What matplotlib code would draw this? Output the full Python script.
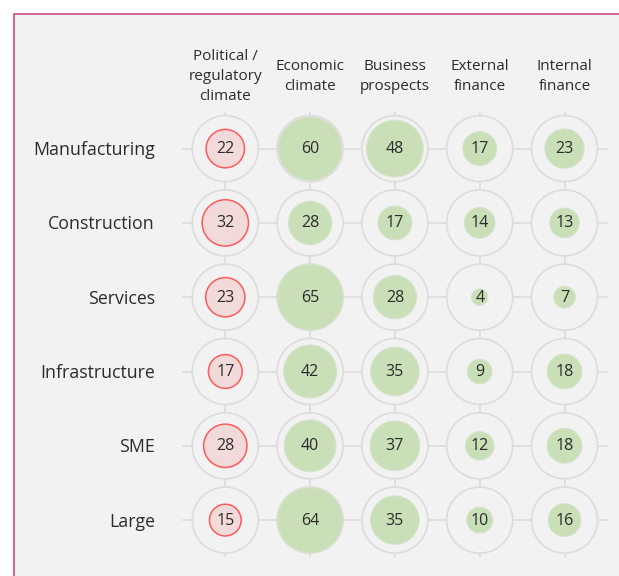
import numpy as np
import matplotlib.pyplot as plt
from matplotlib.patches import Circle, Rectangle

plt.rcParams['font.family'] = ['Open Sans', 'DejaVu Sans']

# data
rows = ['Manufacturing', 'Construction', 'Services', 'Infrastructure', 'SME', 'Large']
cols = ['Political /\nregulatory\nclimate', 'Economic\nclimate', 'Business\nprospects',
        'External\nfinance', 'Internal\nfinance']
political = [22, 32, 23, 17, 28, 15]
economic = [60, 28, 65, 42, 40, 64]
business = [48, 17, 28, 35, 37, 35]
external = [17, 14, 4, 9, 12, 10]
internal = [23, 13, 7, 18, 18, 16]
negative_col = 0  # first column drawn as an obstacle (red)

values = np.array([political, economic, business, external, internal]).T

# layout in pixels
W, H = 619, 576
x0, dx = 225.3, 84.8
y0, dy = 148.6, 74.3
r_out = 33.0
vmax = 65.0

fig = plt.figure(figsize=(W / 100, H / 100), dpi=100)
ax = fig.add_axes([0, 0, 1, 1])
ax.set_xlim(0, W)
ax.set_ylim(H, 0)
ax.set_aspect('equal')
ax.axis('off')

# panel with pink border
ax.add_patch(Rectangle((13.5, 13.5), W + 20, H + 20, facecolor='#f2f2f2',
                       edgecolor='#d05a8e', linewidth=1.3, zorder=0))

grid = '#dcdcdc'
txt = '#2b2b2b'
xs = x0 + dx * np.arange(len(cols))
ys = y0 + dy * np.arange(len(rows))

# connecting lines
for y in ys:
    ax.plot([xs[0] - 42, xs[-1] + 42], [y, y], color=grid, lw=1.2, zorder=1)
for x in xs:
    ax.plot([x, x], [ys[0] - 36, ys[-1] + 36], color=grid, lw=1.2, zorder=1)

for i, y in enumerate(ys):
    ax.text(155, y + 1.5, rows[i], ha='right', va='center', fontsize=12.8, color=txt)
    for j, x in enumerate(xs):
        ax.add_patch(Circle((x, y), r_out, facecolor='#f2f2f2', edgecolor=grid,
                            lw=1.2, zorder=2))
        v = values[i, j]
        r = r_out * np.sqrt(v / vmax)
        if j == negative_col:
            ax.add_patch(Circle((x, y), r, facecolor='#f3dada', edgecolor='#ff5a5a',
                                lw=1.1, zorder=3))
        else:
            ax.add_patch(Circle((x, y), r, facecolor='#c9dfb8', edgecolor='#d6e3cc',
                                lw=0.8, zorder=3))
        ax.text(x, y + 0.5, str(v), ha='center', va='center', fontsize=11.5,
                color=txt, zorder=4)

for j, x in enumerate(xs):
    ax.text(x, 76.5, cols[j], ha='center', va='center', fontsize=11,
            color=txt, linespacing=1.45)

fig.savefig('out.png', dpi=100)
